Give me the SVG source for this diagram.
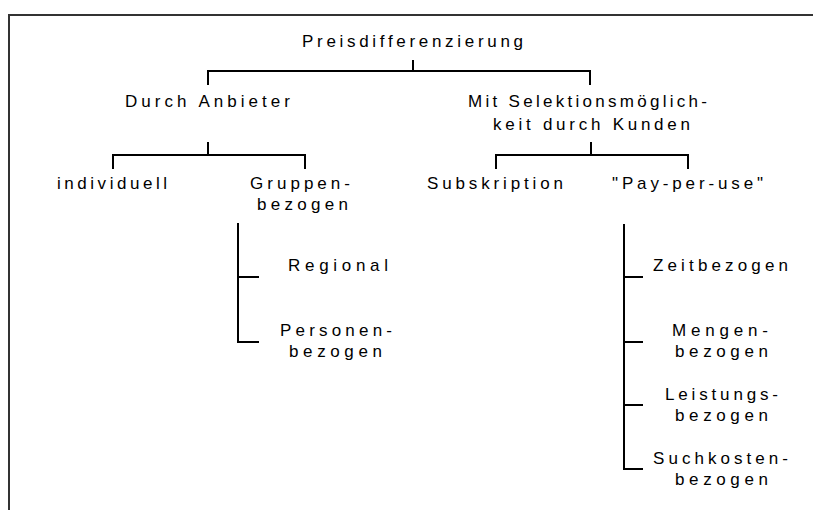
<svg xmlns="http://www.w3.org/2000/svg" width="813" height="510" viewBox="0 0 813 510">
<style>
text{font-family:"Liberation Sans",Arial,sans-serif;font-size:17px;fill:#000}
.c{fill:none;stroke:#000;stroke-width:2}
.f{fill:none;stroke:#333;stroke-width:2}
</style>
<rect width="813" height="510" fill="#fff"/>
<path class="f" d="M9,510 V15 H813"/>
<g id="connectors">
<path class="c" d="M413,60 V71 M208,85 V71 H590 V85"/>
<path class="c" d="M208,142 V155 M113,169 V155 H305 V169"/>
<path class="c" d="M591,142 V155 M496,169 V155 H688 V169"/>
<path class="c" d="M238,223 V342 H259 M238,277 H259"/>
<path class="c" d="M624,224 V469 H643 M624,277 H643 M624,342 H643 M624,405 H643"/>
</g>
<g id="n-root"><text x="302" y="47" textLength="221" lengthAdjust="spacing">Preisdifferenzierung</text></g>
<g id="n-anbieter"><text x="125" y="107" textLength="165" lengthAdjust="spacing">Durch Anbieter</text></g>
<g id="n-kunden"><text x="468" y="107" textLength="239" lengthAdjust="spacing">Mit Selektionsmöglich-</text><text x="493" y="130" textLength="197" lengthAdjust="spacing">keit durch Kunden</text></g>
<g id="n-individuell"><text x="57" y="189" textLength="110" lengthAdjust="spacing">individuell</text></g>
<g id="n-gruppen"><text x="250" y="189" textLength="100" lengthAdjust="spacing">Gruppen-</text><text x="257" y="210" textLength="91" lengthAdjust="spacing">bezogen</text></g>
<g id="n-subskription"><text x="427" y="189" textLength="136" lengthAdjust="spacing">Subskription</text></g>
<g id="n-payperuse"><text x="612" y="189" textLength="151" lengthAdjust="spacing">"Pay-per-use"</text></g>
<g id="n-regional"><text x="288" y="271" textLength="100" lengthAdjust="spacing">Regional</text></g>
<g id="n-personen"><text x="280" y="336" textLength="112" lengthAdjust="spacing">Personen-</text><text x="289" y="357" textLength="93" lengthAdjust="spacing">bezogen</text></g>
<g id="n-zeit"><text x="653" y="271" textLength="135" lengthAdjust="spacing">Zeitbezogen</text></g>
<g id="n-mengen"><text x="672" y="336" textLength="96" lengthAdjust="spacing">Mengen-</text><text x="675" y="357" textLength="93" lengthAdjust="spacing">bezogen</text></g>
<g id="n-leistung"><text x="665" y="400" textLength="113" lengthAdjust="spacing">Leistungs-</text><text x="675" y="421" textLength="93" lengthAdjust="spacing">bezogen</text></g>
<g id="n-suchkosten"><text x="653" y="464" textLength="135" lengthAdjust="spacing">Suchkosten-</text><text x="675" y="485" textLength="93" lengthAdjust="spacing">bezogen</text></g>
</svg>
